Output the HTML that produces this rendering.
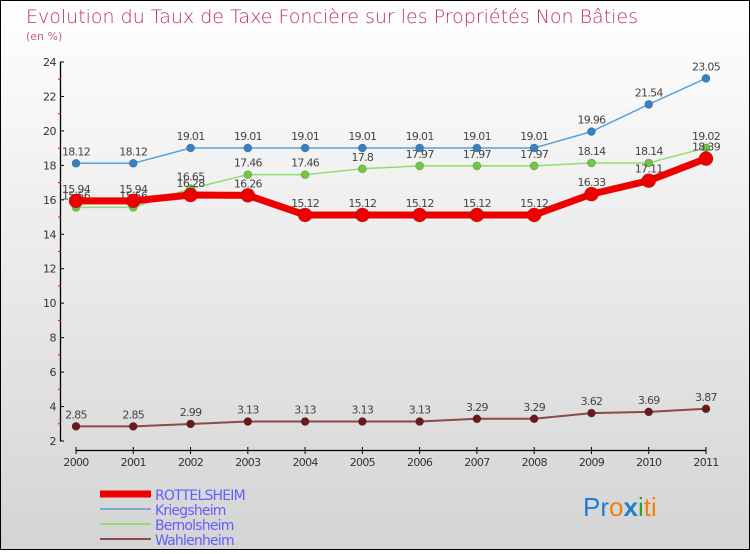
<!DOCTYPE html>
<html><head><meta charset="utf-8"><style>
html,body{margin:0;padding:0}
body{width:750px;height:550px;overflow:hidden;font-family:"DejaVu Sans","Liberation Sans",sans-serif}
</style></head><body>
<svg width="750" height="550" xmlns="http://www.w3.org/2000/svg">
<defs><linearGradient id="bg" x1="0" y1="0" x2="0" y2="1"><stop offset="0" stop-color="#ffffff"/><stop offset="1" stop-color="#d4d4d4"/></linearGradient></defs>
<rect x="0.5" y="0.5" width="749" height="549" fill="url(#bg)" stroke="#000"/>
<text x="26" y="23" font-size="19" fill="#c0305a" font-weight="300">Evolution du Taux de Taxe Foncière sur les Propriétés Non Bâties</text>
<text x="26" y="40" font-size="11" fill="#c0608a">(en %)</text>
<g id="axes"></g><g id="series"></g><g id="legend"></g>
<text x="583" y="516" font-size="26" font-family="Liberation Sans,sans-serif"><tspan fill="#1e7fd0">Pr</tspan><tspan fill="#f08010">o</tspan><tspan fill="#1e7fd0" font-weight="bold">x</tspan><tspan fill="#30a030">i</tspan><tspan fill="#f08010">ti</tspan></text>
</svg>
<script>
const years=["2000","2001","2002","2003","2004","2005","2006","2007","2008","2009","2010","2011"];
const yTicks=[2,4,6,8,10,12,14,16,18,20,22,24];
const rottelsheim=[15.94,15.94,16.28,16.26,15.12,15.12,15.12,15.12,15.12,16.33,17.11,18.39];
const kriegsheim=[18.12,18.12,19.01,19.01,19.01,19.01,19.01,19.01,19.01,19.96,21.54,23.05];
const bernolsheim=[15.56,15.56,16.65,17.46,17.46,17.8,17.97,17.97,17.97,18.14,18.14,19.02];
const wahlenheim=[2.85,2.85,2.99,3.13,3.13,3.13,3.13,3.29,3.29,3.62,3.69,3.87];
const NS="http://www.w3.org/2000/svg";
const X=i=>76+i*(630/11);
const Y=v=>441-(v-2)*(379/22);
function mk(t,a,p){const e=document.createElementNS(NS,t);for(const k in a)e.setAttribute(k,a[k]);p.appendChild(e);return e;}
const ax=document.getElementById('axes');
let e=mk('line',{x1:60.5,y1:62,x2:60.5,y2:441,stroke:'#000','stroke-width':1.3},ax);


e=mk('line',{x1:76,y1:450.5,x2:706,y2:450.5,stroke:'#000','stroke-width':1.3},ax);


yTicks.forEach(v=>{
  mk('line',{x1:60,y1:Y(v),x2:64,y2:Y(v),stroke:'#000'},ax);
  if(v<24){mk('line',{x1:58,y1:Y(v+1),x2:61,y2:Y(v+1),stroke:'#e00'},ax);}
  const t=mk('text',{x:56,y:Y(v)+4,'font-size':11,fill:'#333','text-anchor':'end','letter-spacing':'-0.5'},ax);
  t.textContent=v;
  
  
});
years.forEach((y,i)=>{
  mk('line',{x1:X(i),y1:447,x2:X(i),y2:454,stroke:'#000'},ax);
  const t=mk('text',{x:X(i),y:466,'font-size':11,fill:'#333','text-anchor':'middle','letter-spacing':'-0.7'},ax);
  t.textContent=y;
  
  
});
const sg=document.getElementById('series');
function series(name,vals,color,w,r,dot){
  const g=mk('g',{},sg);
  
  
  mk('polyline',{points:vals.map((v,i)=>X(i)+','+Y(v)).join(' '),fill:'none',stroke:color,'stroke-width':w,'stroke-linejoin':'round'},g);
  vals.forEach((v,i)=>{
    const c=mk('circle',{cx:X(i),cy:Y(v),r:r,fill:dot,stroke:'rgba(0,0,0,0.25)','stroke-width':0.7},g);
    
    
    const t=mk('text',{x:X(i),y:Y(v)-8,'font-size':11,fill:'#444','text-anchor':'middle','letter-spacing':'-0.7'},g);
    t.textContent=v;
    
    
  });
}
series('wahlenheim',wahlenheim,'#8b4a4a',2,4,'#6a1a1a');
series('bernolsheim',bernolsheim,'#90dd70',1.5,4,'#70c840');
series('kriegsheim',kriegsheim,'#5aa0d8',1.5,4,'#3a80c0');
series('rottelsheim',rottelsheim,'#ee0000',7,7,'#ee0000');
const lg=document.getElementById('legend');
[['ROTTELSHEIM','#ee0000',7],['Kriegsheim','#7aaad0',2],['Bernolsheim','#90dd70',2],['Wahlenheim','#8b4a4a',2]].forEach((d,i)=>{
  const y=494+i*15;
  const l=mk('line',{x1:100,y1:y,x2:151,y2:y,stroke:d[1],'stroke-width':d[2]},lg);
  
  
  const t=mk('text',{x:155,y:y+6,'font-size':14,fill:'#6060ff','letter-spacing':'-0.8'},lg);
  t.textContent=d[0];
  
  
});
</script>
</body></html>
